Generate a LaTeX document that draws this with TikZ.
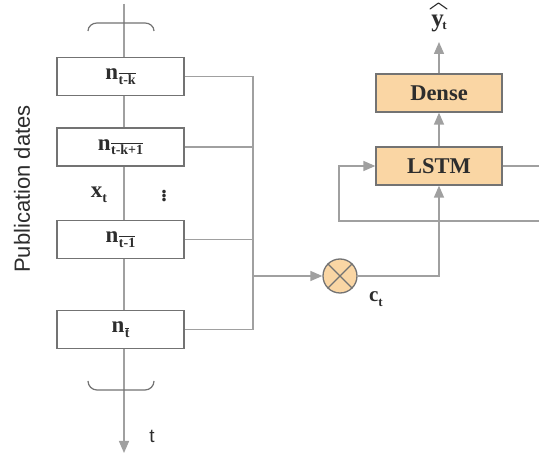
\documentclass[tikz,border=0pt]{standalone}
\usepackage{fontspec}
\setmainfont{Liberation Serif}
\newfontfamily\labsans{Liberation Sans}
\usetikzlibrary{arrows.meta}
\definecolor{ln}{RGB}{160,160,160}
\definecolor{bd}{RGB}{115,115,115}
\definecolor{org}{RGB}{250,214,164}
\definecolor{tx}{RGB}{45,45,45}
\newcommand{\nsub}[1]{{\fontsize{23}{24}\selectfont\bfseries n}\kern0.5pt\raisebox{-4.5pt}{$\overline{\hbox{\fontsize{14}{15}\selectfont\bfseries #1}}$}}
\begin{document}
\begin{tikzpicture}[x=1pt,y=-1pt,
  conn/.style={draw=ln,line width=1.4pt},
  arr/.style={conn,-{Triangle[length=12pt,width=10pt]}},
  wbox/.style={draw=bd,line width=1.3pt,fill=white,minimum width=127pt,minimum height=38pt,inner sep=0pt,text=tx},
  obox/.style={draw=bd,line width=1.3pt,fill=org,minimum width=126pt,minimum height=38pt,inner sep=0pt,text=tx,font=\fontsize{22.5}{24}\selectfont\bfseries},
  brc/.style={draw=bd,line width=1.2pt},
  lab/.style={text=tx,inner sep=0pt}]
\clip (0,0) rectangle (539,454);
\fill[white] (0,0) rectangle (539,454);
% time axis
\coordinate (axtop) at (124,4);
\coordinate (axbot) at (124,453);
\draw[arr] (axtop) -- (axbot);
% braces
\draw[brc] (88,31) to[out=90,in=180] (97,23) -- (145,23) to[out=0,in=90] (154,31);
\draw[brc] (88,381) to[out=-90,in=180] (97,390) -- (145,390) to[out=0,in=-90] (154,381);
% boxes
\node[wbox] (n1) at (120.5,76.5) {\nsub{t-k}};
\node[wbox] (n2) at (120.5,147) {\nsub{t-k+1}};
\node[wbox] (n3) at (120.5,239.5) {\nsub{t-1}};
\node[wbox] (n4) at (120.5,329.5) {\nsub{t}};
% collector
\coordinate (ctop) at (253,76.5);
\coordinate (cbot) at (253,329.5);
\coordinate (cmid) at (253,276);
\draw[conn] (n1.east) -- (ctop) -- (cbot) -- (n4.east);
\draw[conn] (n2.east) -- (n2.east -| ctop);
\draw[conn] (n3.east) -- (n3.east -| ctop);
% multiply node
\node[circle,draw=bd,line width=1.3pt,fill=org,minimum size=34pt,inner sep=0pt] (mul) at (340,276) {};
\draw[draw=bd,line width=1.2pt] (mul.north west) -- (mul.south east) (mul.north east) -- (mul.south west);
\draw[arr] (cmid) -- (mul.west);
% LSTM and Dense
\node[obox] (lstm) at (439,166) {LSTM};
\node[obox] (dense) at (439,93) {Dense};
\draw[arr] (mul.east) -| (lstm.south);
\draw[arr] (lstm.north) -- (dense.south);
\coordinate (yh) at (439,42);
\draw[arr] (dense.north) -- (yh);
\coordinate (lr) at (545,166);
\coordinate (lb) at (339,221);
\draw[arr] (lstm.east) -- (lr) |- (lb) |- (lstm.west);
% labels
\node[lab] (yhat) at (439,23) {{\fontsize{25}{26}\selectfont\bfseries y}\kern-1.5pt\raisebox{-3pt}{\fontsize{13}{13}\selectfont\bfseries t}};
\draw[tx,line width=1.1pt,line cap=round,line join=round] (430,9) -- (438.5,3) -- (447,9);
\node[lab] (xt) at (99,195) {{\fontsize{23}{24}\selectfont\bfseries x}\raisebox{-4.5pt}{\fontsize{14}{15}\selectfont\bfseries t}};
\node[lab] (dots) at (164,193) {\fontsize{22}{24}\selectfont\bfseries\vdots};
\node[lab] (ct) at (376,299) {{\fontsize{21}{22}\selectfont\bfseries c}\raisebox{-4.5pt}{\fontsize{13}{14}\selectfont\bfseries t}};
\node[lab] (tl) at (152,436) {\labsans\fontsize{19}{20}\selectfont t};
\node[lab,rotate=90] (pub) at (22,189) {\labsans\fontsize{22}{24}\selectfont Publication dates};
\end{tikzpicture}
\end{document}
